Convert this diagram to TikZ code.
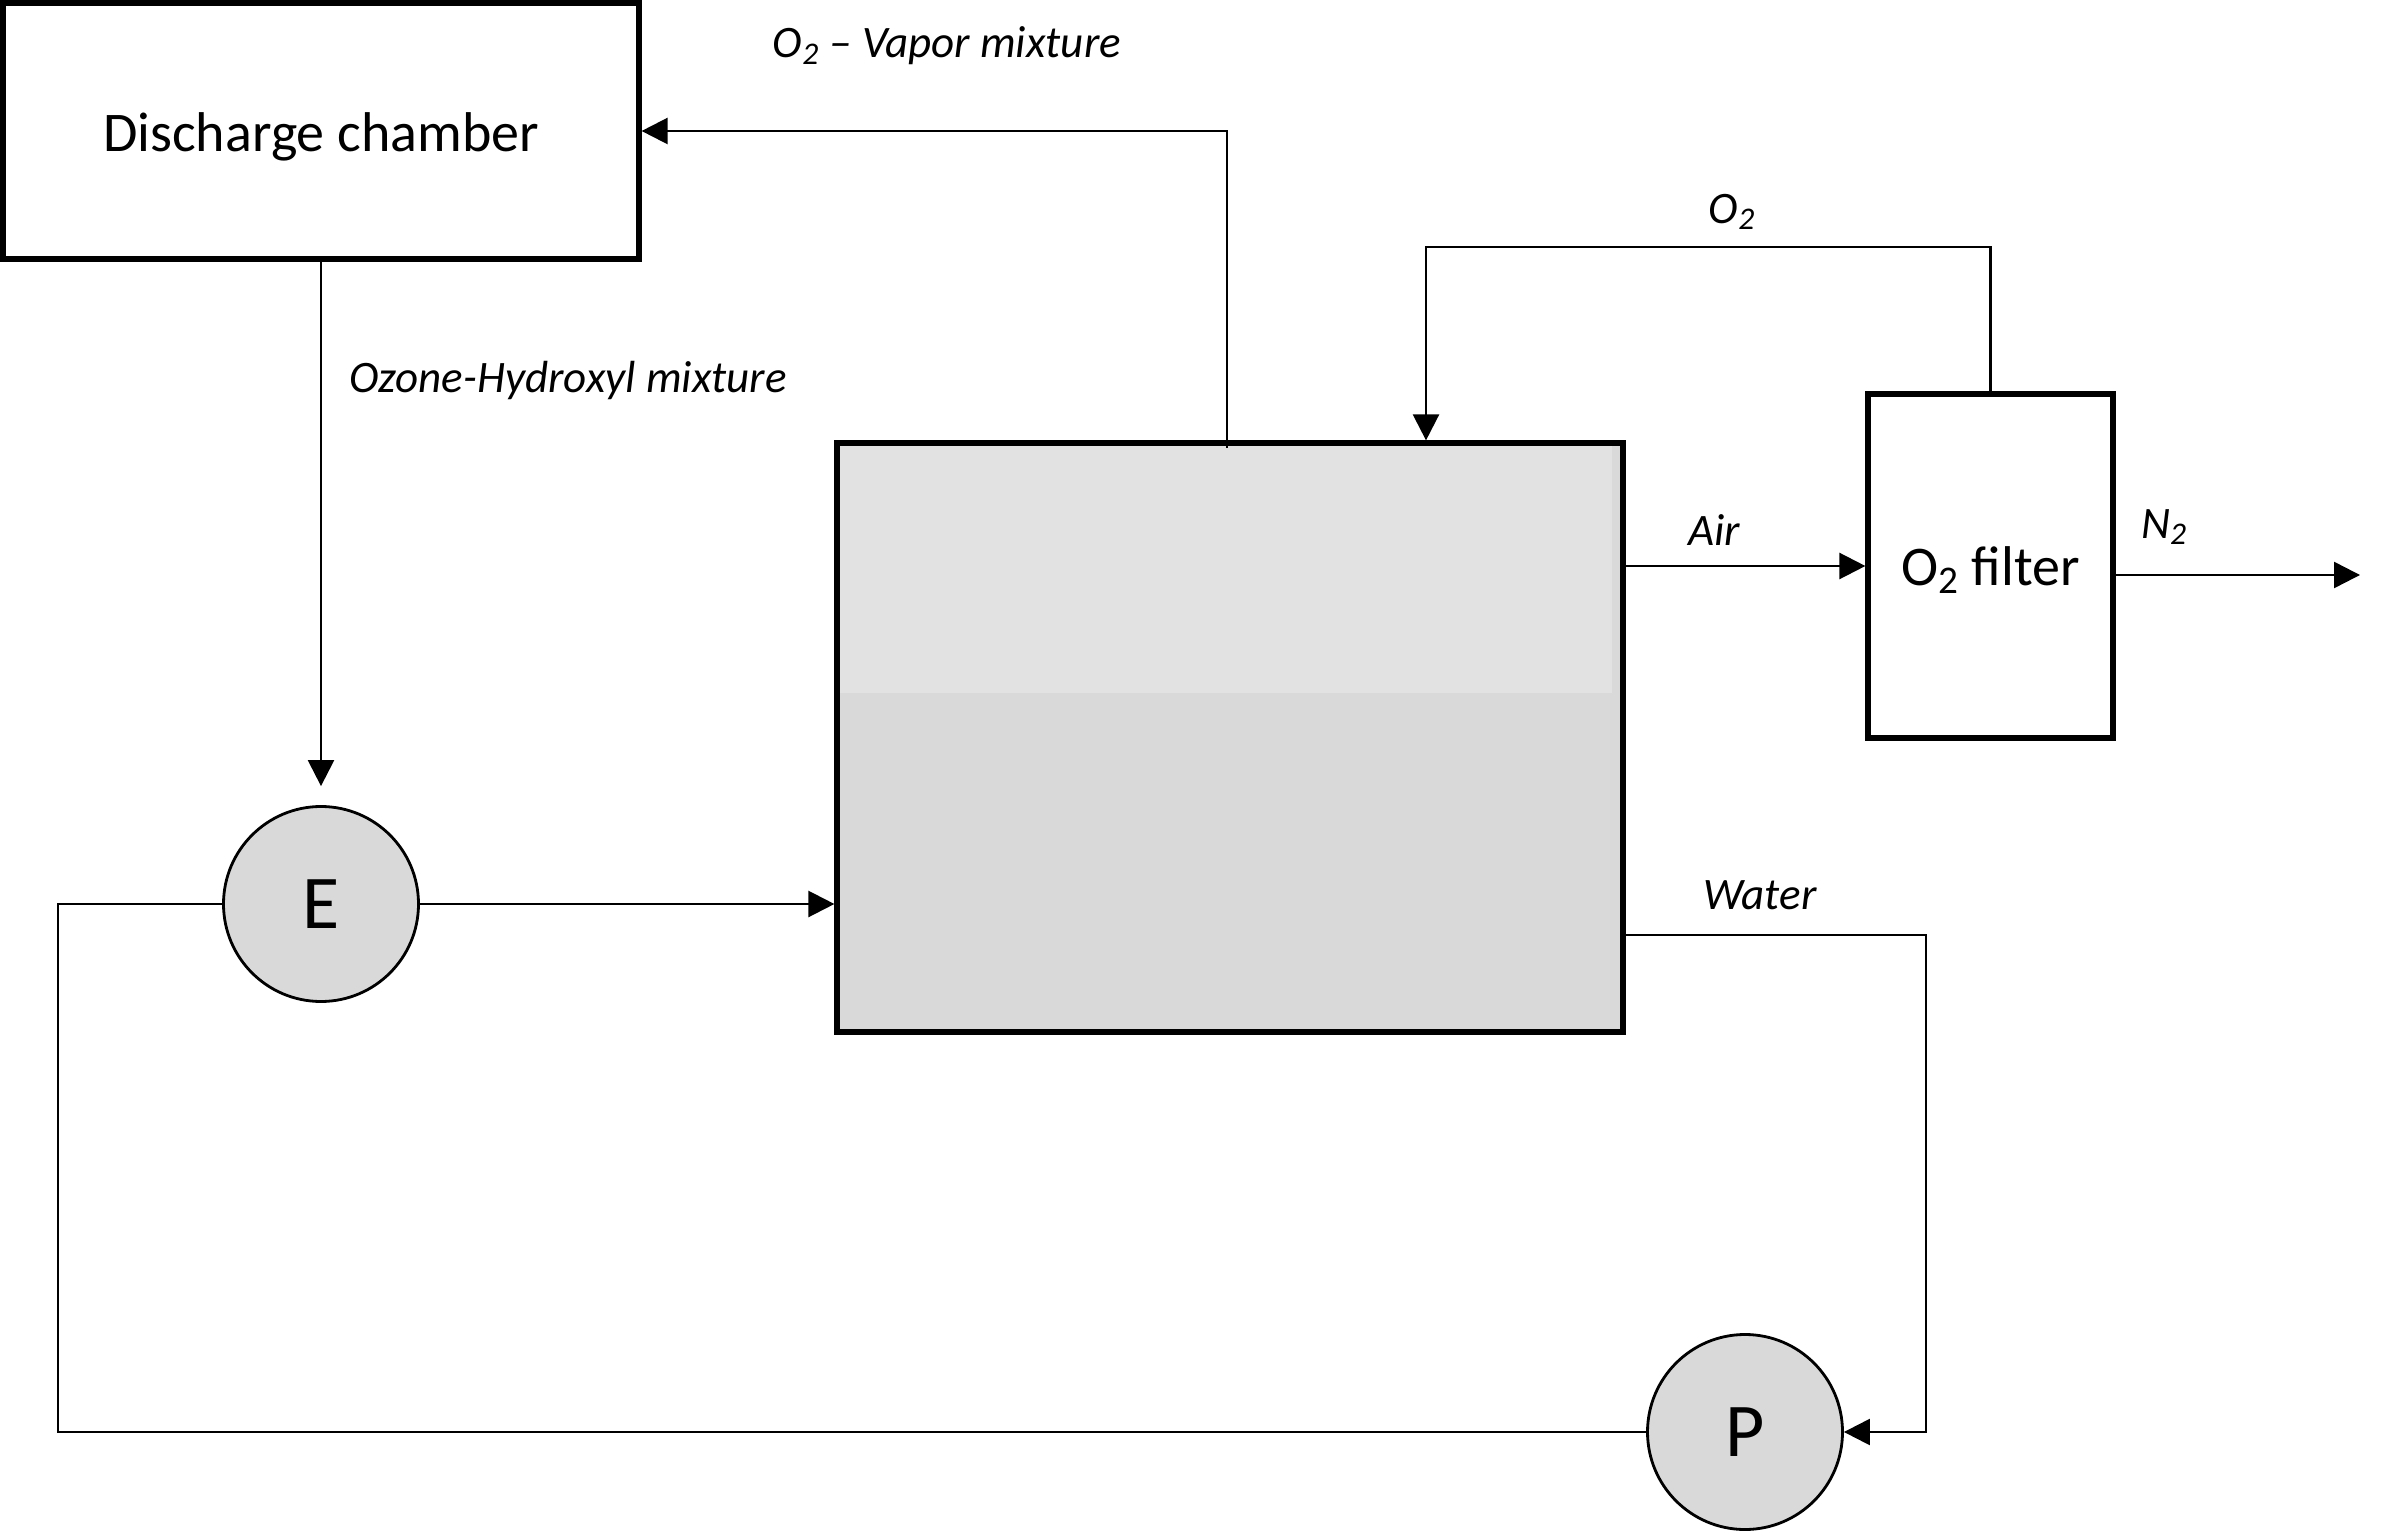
\documentclass[tikz,border=0pt]{standalone}
\usepackage{fontspec}
\setmainfont{Carlito}
\usetikzlibrary{arrows.meta}
\definecolor{tanktop}{HTML}{E2E2E2}
\definecolor{tankbot}{HTML}{D9D9D9}
\begin{document}
\begin{tikzpicture}[x=0.5pt,y=-0.5pt,
  conn/.style={line width=1.2pt,-{Triangle[length=13pt,width=13pt]}},
  plain/.style={line width=1.2pt},
  box/.style={draw,rectangle,line width=2.6pt,inner sep=0pt},
  boxtext/.style={inner sep=0pt,font=\fontsize{28}{32}\selectfont},
  pump/.style={draw,circle,line width=1.4pt,fill=tankbot,minimum size=97.5pt,inner sep=0pt,font=\fontsize{38}{42}\selectfont},
  lbl/.style={inner sep=0pt,font=\fontsize{22.5}{27}\selectfont\itshape}]
\useasboundingbox (0,0) rectangle (2387,1534);
% discharge chamber
\node[box,minimum width=318pt,minimum height=128pt] (dis) at (321,131) {};
\node[boxtext] (distext) at ([yshift=-3pt]dis.center) {Discharge chamber};
% tank
\fill[tankbot] (837,443) rectangle (1623,1032);
\fill[tanktop] (837,443) rectangle (1612,693);
\node[box,minimum width=393pt,minimum height=294.5pt] (tank) at (1230,737.5) {};
% filter
\node[box,minimum width=122.5pt,minimum height=172pt] (filter) at (1990.5,566) {};
\node[boxtext] (filtertext) at ([yshift=-2pt]filter.center) {O\textsubscript{2} filter};
% pumps
\node[pump] (E) at (321,904) {E};
\node[pump] (P) at (1745,1432) {P};
% coordinates
\coordinate (v1) at (1227,448);
\coordinate (loopL) at (58,1432);
\coordinate (wR) at (1926,935);
\coordinate (n2end) at (2360,575);
\coordinate (o2top) at (1426,247);
% connectors
\draw[conn] (v1) |- (dis.east);
\draw[conn,shorten >=9.5pt] (dis.south) -- (E.north);
\draw[conn] (E.east) -- (E.east -| tank.west);
\draw[plain] (E.west) -| (loopL) -- (P.west);
\draw[conn] (wR -| tank.east) -- (wR) |- (P.east);
\draw[conn] (filter.west -| tank.east) -- (filter.west);
\draw[conn] (n2end -| filter.east) -- (n2end);
\draw[conn] (filter.north) |- (o2top) -- (o2top |- tank.north);
% labels
\node[lbl] (lvap) at (947,46) {O\textsubscript{2} – Vapor mixture};
\node[lbl,anchor=west] (loz) at (349,381) {Ozone-Hydroxyl mixture};
\node[lbl] (lair) at (1714,530) {Air};
\node[lbl] (lo2) at (1732,212) {O\textsubscript{2}};
\node[lbl] (ln2) at (2164,527) {N\textsubscript{2}};
\node[lbl] (lwat) at (1760,895) {Water};
\end{tikzpicture}
\end{document}
